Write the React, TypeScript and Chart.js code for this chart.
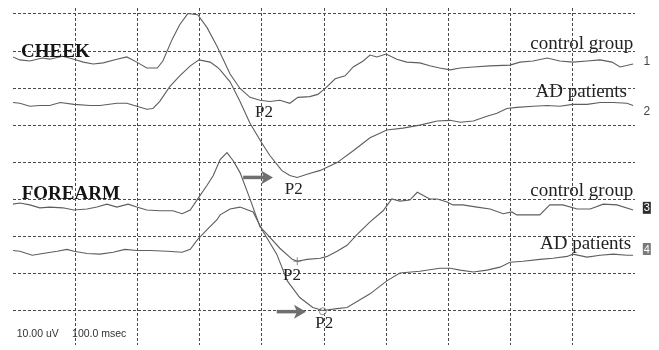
import React, { useEffect, useRef } from "react";
import { Chart, registerables } from "chart.js";

Chart.register(...registerables);

// Time in msec, amplitude in µV (10 µV per division, 100 msec per division)
const cheekControl: [number, number][] = [
  [0, 68.4], [11, 67.6], [27, 67.3], [47, 68.1], [59, 67.8], [80, 68.6], [98, 67.8], [113, 67.0],
  [129, 66.5], [145, 66.8], [167, 67.8], [183, 68.4], [199, 67.0], [215, 65.4], [232, 65.4],
  [241, 67.3], [256, 73.2], [268, 77.1], [281, 80.1], [297, 79.8], [312, 76.3], [328, 71.3],
  [349, 63.8], [365, 59.9], [381, 57.5], [397, 56.7], [413, 56.4], [429, 56.7], [445, 55.9],
  [458, 57.5], [477, 57.7], [490, 58.3], [502, 59.9], [518, 62.5], [534, 63.3], [547, 65.7],
  [563, 67.3], [574, 68.9], [585, 68.4], [600, 69.2], [617, 67.8], [633, 67.0], [654, 66.8],
  [670, 66.0], [686, 65.4], [703, 64.9], [719, 65.4], [740, 65.7], [767, 66.0], [799, 66.2],
  [815, 67.0], [836, 67.3], [859, 68.1], [879, 67.3], [900, 67.0], [923, 67.3], [944, 67.6],
  [963, 67.0], [976, 65.7], [997, 66.5],
];

const cheekAD: [number, number][] = [
  [0, 56.1], [11, 55.9], [27, 55.1], [43, 55.3], [59, 55.3], [76, 56.1], [98, 55.6], [124, 55.3],
  [140, 55.3], [167, 55.9], [183, 55.9], [199, 55.1], [215, 54.3], [225, 54.5], [236, 56.4],
  [252, 60.4], [268, 63.3], [285, 66.0], [299, 67.6], [317, 67.0], [328, 65.7], [333, 64.9],
  [349, 61.7], [365, 56.4], [381, 50.5], [400, 45.2], [413, 41.8], [432, 37.8], [445, 36.4],
  [457, 35.9], [474, 36.8], [494, 37.8], [521, 39.9], [547, 43.1], [574, 46.6], [601, 48.7],
  [627, 49.2], [654, 50.0], [682, 51.1], [703, 51.3], [719, 50.8], [740, 51.1], [762, 52.4],
  [778, 53.2], [794, 54.5], [810, 54.8], [836, 55.1], [859, 55.3], [879, 55.1], [900, 55.6],
  [923, 55.6], [944, 56.1], [965, 56.1], [987, 55.9], [997, 55.3],
];

const forearmControl: [number, number][] = [
  [0, 28.7], [11, 29.0], [27, 28.5], [43, 27.7], [59, 27.9], [80, 27.7], [98, 27.1], [119, 27.4],
  [135, 27.9], [151, 28.7], [167, 27.9], [185, 28.7], [199, 27.9], [215, 27.1], [236, 26.9],
  [257, 26.9], [272, 26.1], [285, 27.1], [297, 30.1], [312, 33.8], [322, 36.4], [333, 40.7],
  [344, 42.6], [354, 40.4], [365, 37.2], [381, 30.1], [397, 22.6], [408, 20.7], [429, 16.8],
  [449, 13.8], [457, 13.3], [473, 13.8], [494, 14.1], [505, 14.6], [521, 16.0], [537, 17.6],
  [553, 20.5], [574, 23.9], [595, 26.9], [609, 30.1], [622, 29.5], [638, 29.8], [650, 31.9],
  [659, 31.1], [670, 30.1], [682, 30.1], [698, 29.3], [707, 28.5], [723, 28.5], [746, 27.9],
  [767, 27.4], [788, 26.1], [802, 26.6], [810, 25.8], [831, 25.8], [847, 25.8], [863, 28.5],
  [884, 28.5], [907, 27.4], [928, 27.4], [949, 28.7], [971, 28.5], [997, 27.1],
];

const forearmAD: [number, number][] = [
  [0, 16.2], [11, 16.0], [31, 14.9], [48, 15.4], [71, 16.0], [87, 16.5], [98, 16.0], [119, 15.4],
  [140, 15.2], [161, 15.7], [180, 16.5], [199, 16.2], [220, 16.2], [248, 16.0], [272, 15.7],
  [285, 16.5], [297, 19.2], [312, 21.8], [328, 24.5], [333, 25.8], [349, 27.4], [365, 27.9],
  [386, 26.6], [402, 21.3], [424, 15.2], [441, 8.0], [461, 3.5], [482, 0.8], [498, 0.0],
  [521, 0.5], [537, 0.8], [574, 4.5], [601, 8.0], [622, 10.1], [654, 10.6], [686, 11.4],
  [703, 11.4], [719, 10.9], [740, 10.4], [762, 10.9], [783, 11.7], [799, 13.0], [820, 13.3],
  [847, 13.8], [868, 14.1], [891, 14.6], [900, 15.2], [923, 14.4], [944, 14.9], [965, 15.2],
  [987, 14.9], [997, 14.9],
];

// P2 markers on the forearm traces
const p2Cross: [number, number][] = [[457, 13.3]];
const p2Circle: [number, number][] = [[498, -0.2]];

const yGridValues = [0, 10, 20, 30, 40, 50, 60, 70, 80];

// Text annotations: [text, ms, µV, align, kind]
const textLabels: [string, number, number, string, string][] = [
  ["CHEEK", 13, 68.4, "left", "bold"],
  ["FOREARM", 14, 30.1, "left", "bold"],
  ["control group", 997, 70.5, "right", "serif"],
  ["AD patients", 987, 57.5, "right", "serif"],
  ["control group", 997, 30.9, "right", "serif"],
  ["AD patients", 994, 16.5, "right", "serif"],
  ["P2", 389, 52.1, "left", "p2"],
  ["P2", 437, 31.4, "left", "p2"],
  ["P2", 434, 8.2, "left", "p2"],
  ["P2", 486, -4.8, "left", "p2"],
  ["10.00 uV", 6, -7.2, "left", "sans"],
  ["100.0 msec", 95, -7.2, "left", "sans"],
];

// Arrows: [fromMs, toMs, µV]
const arrows: [number, number, number][] = [
  [370, 418, 35.9],
  [424, 471, -0.3],
];

// Channel numbers: [label, ms, µV, style]
const channelTags: [string, number, number, string][] = [
  ["1", 1019, 67.0, "plain"],
  ["2", 1019, 53.5, "plain"],
  ["3", 1019, 27.7, "dark"],
  ["4", 1019, 16.6, "grey"],
];

const toPts = (a: [number, number][]) => a.map(([x, y]) => ({ x, y }));

const annotationPlugin = {
  id: "eegAnnotations",
  afterDraw(chart: any) {
    const { ctx, scales } = chart;
    const xs = scales.x;
    const ys = scales.y;
    ctx.save();
    for (const [text, mx, my, align, kind] of textLabels) {
      const px = xs.getPixelForValue(mx);
      const py = ys.getPixelForValue(my);
      if (kind === "bold") {
        ctx.font = "bold 19px 'Liberation Serif', 'DejaVu Serif', serif";
        ctx.fillStyle = "#141414";
      } else if (kind === "serif") {
        ctx.font = "19px 'Liberation Serif', 'DejaVu Serif', serif";
        ctx.fillStyle = "#222222";
      } else if (kind === "p2") {
        ctx.font = "17px 'Liberation Serif', 'DejaVu Serif', serif";
        ctx.fillStyle = "#222222";
      } else {
        ctx.font = "10.5px 'Liberation Sans', Arial, sans-serif";
        ctx.fillStyle = "#333333";
      }
      ctx.textAlign = align;
      ctx.textBaseline = "alphabetic";
      ctx.fillText(text, px, py);
    }
    // arrows
    ctx.strokeStyle = "#6f6f6f";
    ctx.fillStyle = "#6f6f6f";
    for (const [m0, m1, v] of arrows) {
      const x0 = xs.getPixelForValue(m0);
      const x1 = xs.getPixelForValue(m1);
      const y = ys.getPixelForValue(v);
      ctx.lineWidth = 3.5;
      ctx.beginPath();
      ctx.moveTo(x0, y);
      ctx.lineTo(x1 - 8, y);
      ctx.stroke();
      ctx.beginPath();
      ctx.moveTo(x1, y);
      ctx.lineTo(x1 - 12, y - 7);
      ctx.lineTo(x1 - 9, y);
      ctx.lineTo(x1 - 12, y + 7);
      ctx.closePath();
      ctx.fill();
    }
    // channel tags
    ctx.font = "12px 'Liberation Sans', Arial, sans-serif";
    ctx.textAlign = "center";
    ctx.textBaseline = "middle";
    for (const [label, mx, my, style] of channelTags) {
      const px = xs.getPixelForValue(mx);
      const py = ys.getPixelForValue(my);
      if (style === "plain") {
        ctx.fillStyle = "#444444";
        ctx.fillText(label, px, py);
      } else {
        ctx.fillStyle = style === "dark" ? "#2e2e2e" : "#7a7a7a";
        ctx.fillRect(px - 4, py - 6, 8, 12);
        ctx.fillStyle = "#ffffff";
        ctx.font = "11px 'Liberation Sans', Arial, sans-serif";
        ctx.fillText(label, px, py + 0.5);
        ctx.font = "12px 'Liberation Sans', Arial, sans-serif";
      }
    }
    ctx.restore();
  },
};

export default function App() {
  const canvasRef = useRef<HTMLCanvasElement | null>(null);

  useEffect(() => {
    const canvas = canvasRef.current;
    if (!canvas) return;
    const traceStyle = {
      showLine: true,
      borderColor: "#5e5e5e",
      borderWidth: 1.1,
      pointRadius: 0,
      tension: 0,
      fill: false,
    };
    const chart = new Chart(canvas, {
      type: "scatter",
      data: {
        datasets: [
          { label: "CHEEK control group", data: toPts(cheekControl), ...traceStyle },
          { label: "CHEEK AD patients", data: toPts(cheekAD), ...traceStyle },
          { label: "FOREARM control group", data: toPts(forearmControl), ...traceStyle },
          { label: "FOREARM AD patients", data: toPts(forearmAD), ...traceStyle },
          {
            label: "P2 cross",
            data: toPts(p2Cross),
            pointStyle: "cross",
            pointRadius: 4,
            borderColor: "#8a8a8a",
            borderWidth: 1,
            showLine: false,
          },
          {
            label: "P2 circle",
            data: toPts(p2Circle),
            pointStyle: "circle",
            pointRadius: 3.5,
            borderColor: "#8a8a8a",
            backgroundColor: "rgba(0,0,0,0)",
            borderWidth: 1,
            showLine: false,
          },
        ],
      },
      options: {
        animation: false,
        responsive: false,
        maintainAspectRatio: false,
        layout: { padding: { left: 13, right: 24, top: 8, bottom: 0 } },
        plugins: {
          legend: { display: false },
          tooltip: { enabled: false },
          title: { display: false },
        },
        scales: {
          x: {
            type: "linear",
            min: 0,
            max: 1000,
            ticks: { display: false, stepSize: 100 },
            grid: {
              drawTicks: false,
              lineWidth: 1,
              color: (c: any) =>
                c.tick && (c.tick.value <= 0 || c.tick.value >= 1000) ? "rgba(0,0,0,0)" : "#4a4a4a",
            },
            border: { display: false, dash: [3, 2] },
          },
          y: {
            type: "linear",
            min: -9.3,
            max: 81.6,
            afterBuildTicks: (scale: any) => {
              scale.ticks = yGridValues.map((v) => ({ value: v }));
            },
            ticks: { display: false },
            grid: { drawTicks: false, lineWidth: 1, color: "#4a4a4a" },
            border: { display: false, dash: [3, 2] },
          },
        },
      },
      plugins: [annotationPlugin],
    });
    return () => chart.destroy();
  }, []);

  return (
    <div style={{ position: "absolute", left: 0, top: 0, width: 659, height: 350, background: "#fff" }}>
      <canvas ref={canvasRef} width={659} height={350} style={{ display: "block" }} />
    </div>
  );
}
